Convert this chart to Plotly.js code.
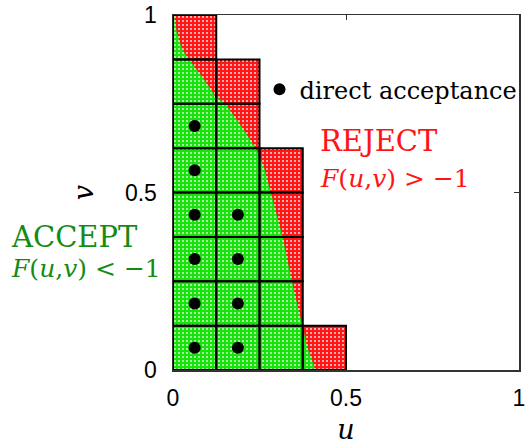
<!DOCTYPE html>
<html>
<head>
<meta charset="utf-8">
<script src="https://cdn.plot.ly/plotly-3.0.1.min.js"></script>
<style>html,body{margin:0;padding:0;background:#fff;}#chart{width:531px;height:445px;}</style>
</head>
<body>
<div id="chart"></div>
<script>
// ---- data ----
// grid cell size and the height (in v) of each column of cells
var cellSize = 0.125;
var columnU = [0, 0.125, 0.25, 0.375];
var columnTop = [1.0, 0.875, 0.625, 0.125];

// boundary F(u,v) = -1 (u as function of v), from top to bottom
var boundaryU = [0.003, 0.011, 0.026, 0.045, 0.088, 0.121, 0.155, 0.202, 0.240, 0.264, 0.281, 0.317, 0.343, 0.374, 0.388, 0.412];
var boundaryV = [1.000, 0.952, 0.905, 0.877, 0.821, 0.774, 0.746, 0.680, 0.624, 0.568, 0.505, 0.375, 0.253, 0.127, 0.066, 0.000];

// centres of cells with direct acceptance
var acceptU = [0.0625, 0.0625, 0.0625, 0.0625, 0.0625, 0.0625, 0.1875, 0.1875, 0.1875, 0.1875];
var acceptV = [0.0625, 0.1875, 0.3125, 0.4375, 0.5625, 0.6875, 0.0625, 0.1875, 0.3125, 0.4375];

var tickVals = [0, 0.5, 1];
var tickText = ['0', '0.5', '1'];

// ---- build geometry from the data ----
var stairX = [0], stairY = [0];
var lastRight = columnU[columnU.length - 1] + cellSize;
stairX.push(lastRight); stairY.push(0);
for (var i = columnU.length - 1; i >= 0; i--) {
  stairX.push(columnU[i] + cellSize); stairY.push(columnTop[i]);
  stairX.push(columnU[i]); stairY.push(columnTop[i]);
}
stairX.push(0); stairY.push(0);

var accX = [0].concat(boundaryU).concat([0, 0]);
var accY = [1].concat(boundaryV).concat([0, 1]);

var RED = 'rgb(255,22,22)';
var GREEN = 'rgb(24,226,12)';

var traces = [
  {
    x: stairX, y: stairY, mode: 'lines', fill: 'toself',
    line: {width: 0, color: RED}, fillcolor: RED,
    fillpattern: {shape: '.', fgcolor: 'rgba(255,255,255,0.85)', bgcolor: RED, size: 4, solidity: 0.2},
    showlegend: false, hoverinfo: 'skip'
  },
  {
    x: accX, y: accY, mode: 'lines', fill: 'toself',
    line: {width: 0, color: GREEN}, fillcolor: GREEN,
    fillpattern: {shape: '.', fgcolor: 'rgba(255,255,255,0.85)', bgcolor: GREEN, size: 4, solidity: 0.18},
    showlegend: false, hoverinfo: 'skip'
  },
  {
    x: acceptU, y: acceptV, mode: 'markers', name: 'direct acceptance',
    marker: {color: 'black', size: 12}, showlegend: true
  }
];

var shapes = [];
for (var c = 0; c < columnU.length; c++) {
  var nRows = Math.round(columnTop[c] / cellSize);
  for (var r = 0; r < nRows; r++) {
    shapes.push({
      type: 'rect', xref: 'x', yref: 'y',
      x0: columnU[c], x1: columnU[c] + cellSize,
      y0: r * cellSize, y1: (r + 1) * cellSize,
      line: {color: 'black', width: 2}, fillcolor: 'rgba(0,0,0,0)'
    });
  }
}

var serif = 'DejaVu Serif, serif';
var layout = {
  width: 531, height: 445,
  margin: {l: 173, r: 8.5, t: 15, b: 75, pad: 0},
  paper_bgcolor: 'white', plot_bgcolor: 'white',
  showlegend: true,
  legend: {
    x: 0.25, y: 0.79, xanchor: 'left', yanchor: 'middle',
    bgcolor: 'rgba(0,0,0,0)', borderwidth: 0,
    font: {family: serif, size: 24, color: 'black'}
  },
  xaxis: {
    range: [0, 1], tickvals: tickVals, ticktext: tickText,
    ticks: 'inside', ticklen: 5, tickwidth: 1, tickcolor: '#333',
    showline: true, linecolor: '#333', linewidth: 1.5, mirror: 'ticks',
    showgrid: false, zeroline: false, fixedrange: true,
    tickfont: {family: 'Liberation Sans, Arial, sans-serif', size: 23, color: 'black'},
    ticklabelstandoff: 7,
    title: {text: '<i>u</i>', font: {family: serif, size: 27, color: 'black'}, standoff: 27}
  },
  yaxis: {
    range: [0, 1], tickvals: tickVals, ticktext: tickText,
    ticks: 'inside', ticklen: 5, tickwidth: 1, tickcolor: '#333',
    showline: true, linecolor: '#333', linewidth: 1.5, mirror: 'ticks',
    showgrid: false, zeroline: false, fixedrange: true,
    tickfont: {family: 'Liberation Sans, Arial, sans-serif', size: 23, color: 'black'},
    ticklabelstandoff: 10,
    title: {text: '<i>v</i>', font: {family: serif, size: 27, color: 'black'}, standoff: 23}
  },
  shapes: shapes,
  annotations: [
    {xref: 'paper', yref: 'paper', x: 0.42, y: 0.645, xanchor: 'left', yanchor: 'middle',
     text: 'REJECT', showarrow: false, font: {family: serif, size: 29, color: 'rgb(255,20,20)'}},
    {xref: 'paper', yref: 'paper', x: 0.42, y: 0.54, xanchor: 'left', yanchor: 'middle',
     text: '<i>F</i>(<i>u</i>,<i>v</i>) &gt; −1', showarrow: false, font: {family: serif, size: 25, color: 'rgb(255,20,20)'}},
    {xref: 'paper', yref: 'paper', x: -0.475, y: 0.376, xanchor: 'left', yanchor: 'middle',
     text: 'ACCEPT', showarrow: false, font: {family: serif, size: 29, color: 'rgb(20,140,20)'}},
    {xref: 'paper', yref: 'paper', x: -0.475, y: 0.285, xanchor: 'left', yanchor: 'middle',
     text: '<i>F</i>(<i>u</i>,<i>v</i>) &lt; −1', showarrow: false, font: {family: serif, size: 25, color: 'rgb(20,140,20)'}}
  ]
};

Plotly.newPlot('chart', traces, layout, {displayModeBar: false, staticPlot: true});
</script>
</body>
</html>
